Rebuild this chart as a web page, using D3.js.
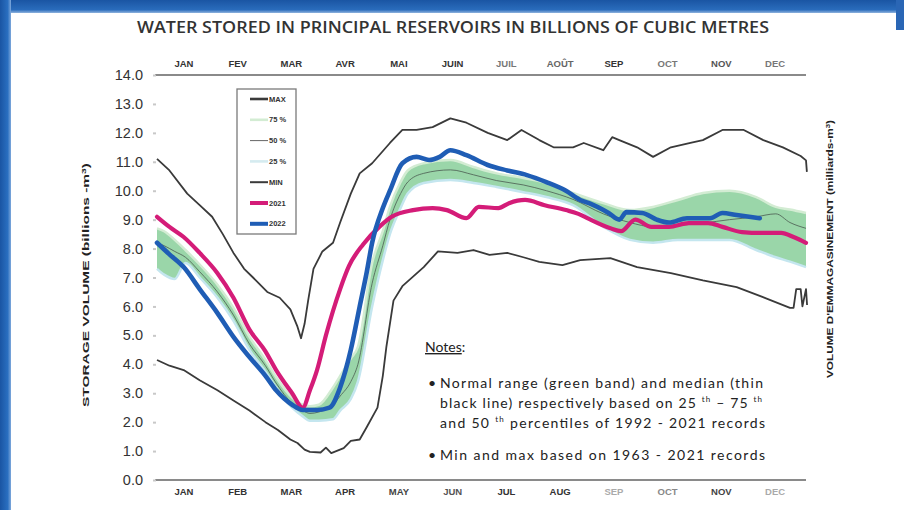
<!DOCTYPE html>
<html><head><meta charset="utf-8">
<script src="https://cdn.jsdelivr.net/npm/d3@7"></script>
<style>
html,body{margin:0;padding:0;background:#fff;}
svg{display:block;}
</style></head>
<body>
<svg id="c" width="904" height="510"></svg>
<script>
// ---------- DATA ----------
const monthsTop = ["JAN","FEV","MAR","AVR","MAI","JUIN","JUIL","AOÛT","SEP","OCT","NOV","DEC"];
const monthsBottom = ["JAN","FEB","MAR","APR","MAY","JUN","JUL","AUG","SEP","OCT","NOV","DEC"];
const yTicks = [0,1,2,3,4,5,6,7,8,9,10,11,12,13,14];

const maxDay = [0,7,17,24,31,37,43,49,54,62,69,75,79,81,83,85,88,93,99,103,109,114,121,131,138,146,155,165,174,186,197,205,215,223,234,240,251,256,260,270,279,289,300,307,318,330,341,352,362,365,365.5];
const maxVol = [11.1,10.7,9.9,9.5,9.1,8.5,7.85,7.3,7.0,6.5,6.3,5.9,5.3,4.9,5.4,6.2,7.3,7.9,8.2,8.9,9.9,10.6,10.95,11.65,12.1,12.1,12.2,12.5,12.35,12.0,11.75,12.1,11.75,11.5,11.5,11.65,11.4,11.85,11.75,11.5,11.17,11.5,11.65,11.75,12.1,12.1,11.75,11.5,11.2,11.05,10.65];

const minDay = [0,7,15,24,34,43,52,61,68,75,79,83,86,92,95,98,105,109,114,118,124,127,129,133,138,150,158,169,178,187,197,206,215,228,238,255,270,289,307,326,345,356,358,359.5,362,363,365,365.6];
const minVol = [4.15,3.95,3.8,3.45,3.1,2.75,2.4,2.0,1.73,1.4,1.28,1.05,0.97,0.95,1.12,0.93,1.1,1.35,1.4,1.83,2.5,3.6,4.6,6.2,6.7,7.36,7.9,7.85,7.95,7.78,7.85,7.7,7.54,7.43,7.6,7.67,7.36,7.15,6.9,6.67,6.22,5.95,5.95,6.6,6.6,6.0,6.6,6.05];

const y2021Day = [0,7,15,24,34,43,52,61,67,76,82,86,90,95,103,108,116,125,132,144,155,163,174,181,192,198,207,218,230,237,242,255,261,269,278,288,299,310,318,329,340,351,358,365];
const y2021Vol = [9.1,8.75,8.4,7.85,7.15,6.3,5.2,4.45,3.8,3.0,2.5,3.1,3.8,5.0,6.6,7.4,8.15,8.75,9.1,9.33,9.4,9.33,9.05,9.44,9.4,9.57,9.68,9.5,9.33,9.2,9.05,8.7,8.6,9.0,8.75,8.75,8.88,8.88,8.75,8.57,8.54,8.54,8.4,8.2];

const y2022Day = [0,7,15,24,34,43,52,61,67,76,82,90,97,103,109,114,118,121,127,131,138,146,153,159,165,174,186,197,208,219,230,238,243,254,260,264,273,281,288,298,311,318,326,339];
const y2022Vol = [8.2,7.8,7.36,6.6,5.77,4.95,4.25,3.6,3.1,2.6,2.42,2.42,2.5,3.2,4.5,6.0,7.2,8.2,9.4,10.0,10.95,11.17,11.06,11.17,11.4,11.23,10.89,10.7,10.54,10.3,10.0,9.68,9.57,9.23,9.0,9.26,9.23,9.0,8.9,9.05,9.05,9.23,9.16,9.05];

const bandDay = [0,4,10,16,24,34,43,52,61,67,76,82,86,91,99,103,109,113,121,127,131,137,141,150,165,178,191,206,219,234,251,266,279,293,307,322,337,348,356,365];
const p75 = [8.7,8.6,8.3,7.95,7.45,6.75,5.95,4.95,4.15,3.55,2.85,2.6,2.55,2.6,3.2,3.6,4.2,4.6,7.5,8.6,9.44,10.3,10.7,10.95,11.06,10.82,10.6,10.44,10.27,9.92,9.57,9.33,9.44,9.68,9.92,10.0,9.78,9.44,9.35,9.23];
const p50 = [8.2,8.1,7.9,7.7,7.2,6.5,5.7,4.7,3.95,3.35,2.65,2.4,2.3,2.35,2.6,2.9,3.4,4.0,6.8,8.1,9.0,9.9,10.3,10.6,10.72,10.55,10.35,10.2,10.0,9.7,9.2,8.9,8.75,8.8,8.88,9.0,9.1,9.2,8.9,8.7];
const p25 = [7.3,7.1,6.95,7.5,7.0,6.3,5.5,4.5,3.75,3.2,2.5,2.2,2.05,2.05,2.1,2.4,2.8,3.4,6.0,7.6,8.5,9.4,9.9,10.27,10.37,10.27,10.13,9.95,9.78,9.5,8.75,8.3,8.2,8.3,8.3,8.3,7.95,7.7,7.55,7.36];

const legendLabels = ["MAX","75 %","50 %","25 %","MIN","2021","2022"];

// ---------- DRAW ----------
const svg = d3.select("#c");
const W = 904, H = 510;

// frame
const defs = svg.append("defs");
const gL = defs.append("linearGradient").attr("id","gl").attr("x1",0).attr("x2",1).attr("y1",0).attr("y2",0);
gL.append("stop").attr("offset","0%").attr("stop-color","#1a55a3");
gL.append("stop").attr("offset","70%").attr("stop-color","#2a6fc0");
gL.append("stop").attr("offset","100%").attr("stop-color","#7fa9dc");
const gT = defs.append("linearGradient").attr("id","gt").attr("x1",0).attr("x2",0).attr("y1",0).attr("y2",1);
gT.append("stop").attr("offset","0%").attr("stop-color","#1a55a3");
gT.append("stop").attr("offset","75%").attr("stop-color","#2a6cbc");
gT.append("stop").attr("offset","100%").attr("stop-color","#8fb3de");
svg.append("rect").attr("width",W).attr("height",H).attr("fill","#fff");
svg.append("rect").attr("x",0).attr("y",0).attr("width",W).attr("height",13).attr("fill","url(#gt)");
svg.append("rect").attr("x",0).attr("y",0).attr("width",11).attr("height",H).attr("fill","url(#gl)");
svg.append("rect").attr("x",896).attr("y",0).attr("width",8).attr("height",30).attr("fill","#2a66b5");

const x = d3.scaleLinear().domain([0,365]).range([157,806]);
const y = d3.scaleLinear().domain([0,14]).range([480,75]);
const xm = d3.scaleBand().domain(d3.range(12)).range([157,802]);

// title
svg.append("text").attr("x",453).attr("y",33).attr("text-anchor","middle")
  .attr("font-family","'Open Sans', sans-serif").attr("font-size",15.5).attr("font-weight",600).attr("fill","#333")
  .attr("textLength",632).attr("lengthAdjust","spacingAndGlyphs")
  .text("WATER STORED IN PRINCIPAL RESERVOIRS IN BILLIONS OF CUBIC METRES");

// horizontal frame lines at 14 and 0
svg.append("line").attr("x1",155).attr("x2",806).attr("y1",y(14)).attr("y2",y(14)).attr("stroke","#8a8a8a").attr("stroke-width",2);
svg.append("line").attr("x1",155).attr("x2",806).attr("y1",y(0)).attr("y2",y(0)).attr("stroke","#8a8a8a").attr("stroke-width",2);

// y axis
const ya = svg.append("g").attr("transform","translate(156,0)")
  .call(d3.axisLeft(y).tickValues(yTicks).tickFormat(d3.format(".1f")).tickSize(3).tickPadding(10));
ya.select(".domain").remove();
ya.selectAll(".tick line").attr("stroke","#c8c8c8").attr("stroke-width",2);
ya.selectAll(".tick text").attr("font-family","'Liberation Sans', Arial, sans-serif").attr("font-size",14.5).attr("fill","#333");

// month axes
const topCol = ["#333","#333","#333","#333","#333","#333","#777","#666","#333","#777","#555","#777"];
const botCol = ["#333","#333","#333","#333","#444","#555","#333","#333","#aaa","#888","#444","#aaa"];
const ta = svg.append("g").attr("transform","translate(0,75)")
  .call(d3.axisTop(xm).tickSize(0).tickPadding(8).tickFormat(i=>monthsTop[i]));
ta.select(".domain").remove();
ta.selectAll(".tick text").attr("font-family","'Liberation Sans Narrow','Liberation Sans',sans-serif").attr("font-weight","bold")
  .attr("font-size",9.5).attr("fill",(d)=>topCol[d]);
const ba = svg.append("g").attr("transform","translate(0,480)")
  .call(d3.axisBottom(xm).tickSize(0).tickPadding(8).tickFormat(i=>monthsBottom[i]));
ba.select(".domain").remove();
ba.selectAll(".tick text").attr("font-family","'Liberation Sans Narrow','Liberation Sans',sans-serif").attr("font-weight","bold")
  .attr("font-size",9.5).attr("fill",(d)=>botCol[d]);

// axis titles
svg.append("text").attr("transform","translate(89,285) rotate(-90)").attr("text-anchor","middle")
  .attr("font-family","'Liberation Sans Narrow','Liberation Sans',sans-serif").attr("font-weight","bold").attr("font-size",9)
  .attr("fill","#222").attr("textLength",244).attr("lengthAdjust","spacingAndGlyphs")
  .html("STORAGE VOLUME (billions -m<tspan dy='-3' font-size='6'>3</tspan><tspan dy='3'>)</tspan>");
svg.append("text").attr("transform","translate(833,249) rotate(-90)").attr("text-anchor","middle")
  .attr("font-family","'Liberation Sans Narrow','Liberation Sans',sans-serif").attr("font-weight","bold").attr("font-size",9)
  .attr("fill","#222").attr("textLength",258).attr("lengthAdjust","spacingAndGlyphs")
  .html("VOLUME D'EMMAGASINEMENT (milliards-m<tspan dy='-3' font-size='6'>3</tspan><tspan dy='3'>)</tspan>");

// band
const band = bandDay.map((d,i)=>({d, lo:p25[i], mid:p50[i], hi:p75[i]}));
svg.append("path").datum(band)
  .attr("d", d3.area().x(d=>x(d.d)).y0(d=>y(d.lo)).y1(d=>y(d.hi)).curve(d3.curveMonotoneX))
  .attr("fill","#8fd1a0").attr("fill-opacity",0.9);
svg.append("path").datum(band)
  .attr("d", d3.line().x(d=>x(d.d)).y(d=>y(d.hi)).curve(d3.curveMonotoneX))
  .attr("fill","none").attr("stroke","#d3ecd3").attr("stroke-width",2.5);
svg.append("path").datum(band)
  .attr("d", d3.line().x(d=>x(d.d)).y(d=>y(d.lo)).curve(d3.curveMonotoneX))
  .attr("fill","none").attr("stroke","#c4e6ef").attr("stroke-width",2.5);
svg.append("path").datum(band)
  .attr("d", d3.line().x(d=>x(d.d)).y(d=>y(d.mid)).curve(d3.curveMonotoneX))
  .attr("fill","none").attr("stroke","#4a5a50").attr("stroke-width",0.8);

// max / min
const lineLin = d3.line().x(d=>x(d[0])).y(d=>y(d[1]));
svg.append("path").datum(maxDay.map((d,i)=>[d,maxVol[i]])).attr("d",lineLin)
  .attr("fill","none").attr("stroke","#3a3a3a").attr("stroke-width",1.8).attr("stroke-linejoin","round");
svg.append("path").datum(minDay.map((d,i)=>[d,minVol[i]])).attr("d",lineLin)
  .attr("fill","none").attr("stroke","#3a3a3a").attr("stroke-width",1.8).attr("stroke-linejoin","round");

// 2021 / 2022
const lineSm = d3.line().x(d=>x(d[0])).y(d=>y(d[1])).curve(d3.curveMonotoneX);
svg.append("path").datum(y2021Day.map((d,i)=>[d,y2021Vol[i]])).attr("d",lineSm)
  .attr("fill","none").attr("stroke","#d41c78").attr("stroke-width",4.2).attr("stroke-linejoin","round").attr("stroke-linecap","round");
svg.append("path").datum(y2022Day.map((d,i)=>[d,y2022Vol[i]])).attr("d",lineSm)
  .attr("fill","none").attr("stroke","#1f5db5").attr("stroke-width",4.6).attr("stroke-linejoin","round").attr("stroke-linecap","round");

// legend
const lg = svg.append("g");
lg.append("rect").attr("x",237).attr("y",89).attr("width",59).attr("height",145)
  .attr("fill","#fff").attr("stroke","#7a7a7a").attr("stroke-width",1.3);
const legStroke = ["#3a3a3a","#d3ecd3","#666","#d5ebf0","#3a3a3a","#d41c78","#1f5db5"];
const legW = [2.6,2.6,1,2.6,2,4,4];
legendLabels.forEach((t,i)=>{
  const yy = 99 + i*20.8;
  lg.append("line").attr("x1",250).attr("x2",268).attr("y1",yy).attr("y2",yy)
    .attr("stroke",legStroke[i]).attr("stroke-width",legW[i]);
  lg.append("text").attr("x",269).attr("y",yy+2.6)
    .attr("font-family","'Liberation Sans Narrow','Liberation Sans',sans-serif").attr("font-weight","bold")
    .attr("font-size",7.5).attr("fill","#333").text(t);
});

// notes
const nf = "Lato, 'Open Sans', sans-serif";
const notes = svg.append("g").attr("font-family",nf).attr("font-size",14).attr("fill","#222");
notes.append("text").attr("x",425).attr("y",352).html("<tspan text-decoration='underline'>Notes</tspan>:");
notes.append("text").attr("x",428).attr("y",388).text("•");
notes.append("text").attr("x",440).attr("y",388).attr("textLength",323).attr("lengthAdjust","spacing")
  .text("Normal range (green band) and median (thin");
notes.append("text").attr("x",440).attr("y",408).attr("textLength",322).attr("lengthAdjust","spacing")
  .html("black line) respectively based on 25 <tspan font-size='8' dy='-6'>th</tspan><tspan dy='6'> –  75 </tspan><tspan font-size='8' dy='-6'>th</tspan>");
notes.append("text").attr("x",440).attr("y",428).attr("textLength",325).attr("lengthAdjust","spacing")
  .html("and 50 <tspan font-size='8' dy='-6'>th</tspan><tspan dy='6'> percentiles  of 1992  -  2021 records</tspan>");
notes.append("text").attr("x",428).attr("y",460).text("•");
notes.append("text").attr("x",440).attr("y",460).attr("textLength",325).attr("lengthAdjust","spacing")
  .text("Min and max based on  1963  -  2021 records");
</script>
</body></html>
